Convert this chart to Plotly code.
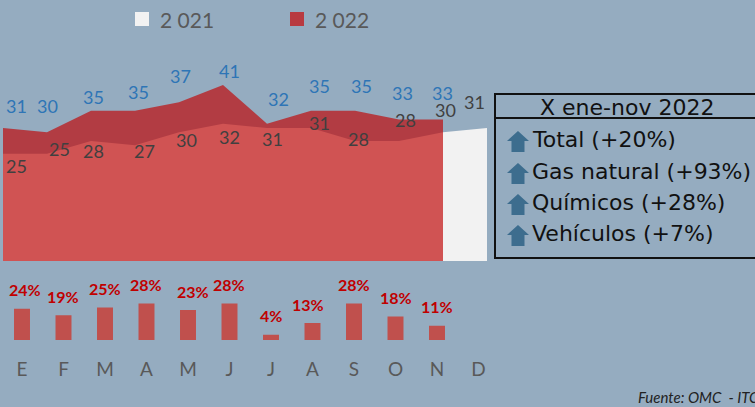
import plotly.graph_objects as go

W, H = 755, 407
BG = "#95ACC0"

MONTHS = ["E", "F", "M", "A", "M", "J", "J", "A", "S", "O", "N", "D"]
VAL_2021 = [25, 25, 28, 27, 30, 32, 31, 31, 28, 28, 30, 31]
VAL_2022 = [31, 30, 35, 35, 37, 41, 32, 35, 35, 33, 33]
GROWTH = [24, 19, 25, 28, 23, 28, 4, 13, 28, 18, 11]
LEGEND_NAMES = ["2 021", "2 022"]
BOX_TITLE = "X ene-nov 2022"
BOX_ITEMS = ["Total (+20%)", "Gas natural (+93%)", "Químicos (+28%)", "Vehículos (+7%)"]
SOURCE = "Fuente: OMC  - ITC"

# label nudges (pixels) - styling only
LBL21_DX = [13, 12, 2, 9, 7, 6, 5, 8, 3, 6, 2, -13]
LBL21_DY = [-12, 5, -10, -6, -8, -13, -11, 5, 2, 21, 22, 26]
LBL22_DX = [13, 0, 2, 3, 1, 6, 11, 8, 6, 3, -1]
LBL22_DY = [22, 26, 14, 19, 26, 14, 25, 25, 25, 26, 26]
BAR_LBL_DX = [3, -1, 0, -1, 5, -1, 0, -5, 0, 0, 0]


def px(x):
    return x / W


def py(y):
    return 1 - y / H


fig = go.Figure()

# Area chart (x2/y2)
fig.add_trace(go.Scatter(
    x=list(range(len(VAL_2021))), y=VAL_2021, xaxis="x2", yaxis="y2",
    mode="lines", line=dict(width=0, color="#F2F2F2"), fill="tozeroy",
    fillcolor="#F2F2F2", hoverinfo="skip", showlegend=False))
fig.add_trace(go.Scatter(
    x=list(range(len(VAL_2022))), y=VAL_2022, xaxis="x2", yaxis="y2",
    mode="lines", line=dict(width=0, color="rgba(192,8,8,0.68)"), fill="tozeroy",
    fillcolor="rgba(192,8,8,0.68)", hoverinfo="skip", showlegend=False))

# Growth bars (x/y)
fig.add_trace(go.Bar(
    x=list(range(len(GROWTH))), y=GROWTH, xaxis="x", yaxis="y", width=0.385,
    marker=dict(color="#C0504D", line=dict(width=0)), hoverinfo="skip", showlegend=False))

ann = []
for i, v in enumerate(VAL_2021):
    ann.append(dict(x=i, y=v, xref="x2", yref="y2", text=str(v), showarrow=False,
                    xshift=LBL21_DX[i], yshift=LBL21_DY[i],
                    font=dict(family="Lato", size=18, color="#404040")))
for i, v in enumerate(VAL_2022):
    ann.append(dict(x=i, y=v, xref="x2", yref="y2", text=str(v), showarrow=False,
                    xshift=LBL22_DX[i], yshift=LBL22_DY[i],
                    font=dict(family="Lato", size=18, color="#2E75B6")))
for i, g in enumerate(GROWTH):
    ann.append(dict(x=i, y=g, xref="x", yref="y", text=f"<b>{g}%</b>", showarrow=False,
                    xshift=BAR_LBL_DX[i], yshift=19,
                    font=dict(family="Lato", size=16, color="#C00000")))

# legend
shapes = []
shapes.append(dict(type="rect", xref="paper", yref="paper", x0=px(135), x1=px(149),
                   y0=py(26), y1=py(12), fillcolor="#F2F2F2", line=dict(width=0)))
shapes.append(dict(type="rect", xref="paper", yref="paper", x0=px(290), x1=px(304),
                   y0=py(26), y1=py(12), fillcolor="#B83A40", line=dict(width=0)))
ann.append(dict(x=px(158), y=py(19), xref="paper", yref="paper", text=LEGEND_NAMES[0],
                xanchor="left", yanchor="middle", showarrow=False,
                font=dict(family="Lato", size=21, color="#595959")))
ann.append(dict(x=px(313), y=py(19), xref="paper", yref="paper", text=LEGEND_NAMES[1],
                xanchor="left", yanchor="middle", showarrow=False,
                font=dict(family="Lato", size=21, color="#595959")))

# info box
shapes.append(dict(type="rect", xref="paper", yref="paper", x0=px(495), x1=px(770),
                   y0=py(258), y1=py(94), fillcolor="rgba(0,0,0,0)",
                   line=dict(color="#111111", width=2)))
shapes.append(dict(type="line", xref="paper", yref="paper", x0=px(495), x1=px(770),
                   y0=py(118), y1=py(118), line=dict(color="#111111", width=2)))
ann.append(dict(x=px(627), y=py(107), xref="paper", yref="paper", text=BOX_TITLE,
                xanchor="center", yanchor="middle", showarrow=False,
                font=dict(family="DejaVu Sans", size=22, color="#111111")))
row_y = [139, 171, 202, 233]
for k, item in enumerate(BOX_ITEMS):
    cy = row_y[k]
    ann.append(dict(x=px(530), y=py(cy), xref="paper", yref="paper", text=item,
                    xanchor="left", yanchor="middle", showarrow=False,
                    font=dict(family="DejaVu Sans", size=22, color="#111111")))
    pts = [(518, cy - 8), (529, cy + 2), (524.5, cy + 2), (524.5, cy + 13),
           (511.5, cy + 13), (511.5, cy + 2), (507, cy + 2)]
    path = "M " + " L ".join(f"{px(a):.5f},{py(b):.5f}" for a, b in pts) + " Z"
    shapes.append(dict(type="path", xref="paper", yref="paper", path=path,
                       fillcolor="#3D6D8E", line=dict(width=0)))

ann.append(dict(x=px(636), y=py(397), xref="paper", yref="paper", text=f"<i>{SOURCE}</i>",
                xanchor="left", yanchor="middle", showarrow=False,
                font=dict(family="Lato", size=15, color="#222222")))

fig.update_layout(
    width=W, height=H, margin=dict(l=0, r=0, t=0, b=0),
    paper_bgcolor=BG, plot_bgcolor="rgba(0,0,0,0)", showlegend=False,
    annotations=ann, shapes=shapes,
    xaxis=dict(domain=[px(1.25), px(499.25)], range=[-0.5, 11.5], anchor="y",
               tickmode="array", tickvals=list(range(12)), ticktext=MONTHS,
               showgrid=False, zeroline=False, showline=False,
               ticks="outside", ticklen=12, tickcolor="rgba(0,0,0,0)",
               tickfont=dict(family="Lato", size=19, color="#595959")),
    yaxis=dict(domain=[py(340), py(280)], range=[0, 46], visible=False),
    xaxis2=dict(domain=[px(3), px(487)], range=[0, 11], anchor="y2", visible=False),
    yaxis2=dict(domain=[py(261), py(40)], range=[0, 221 / 4.29], anchor="x2", visible=False),
)

fig.write_html("out.html", config={"displayModeBar": False},
               post_script="document.body.style.margin='0';document.body.style.padding='0';"
                           "document.body.style.background='" + BG + "';")
